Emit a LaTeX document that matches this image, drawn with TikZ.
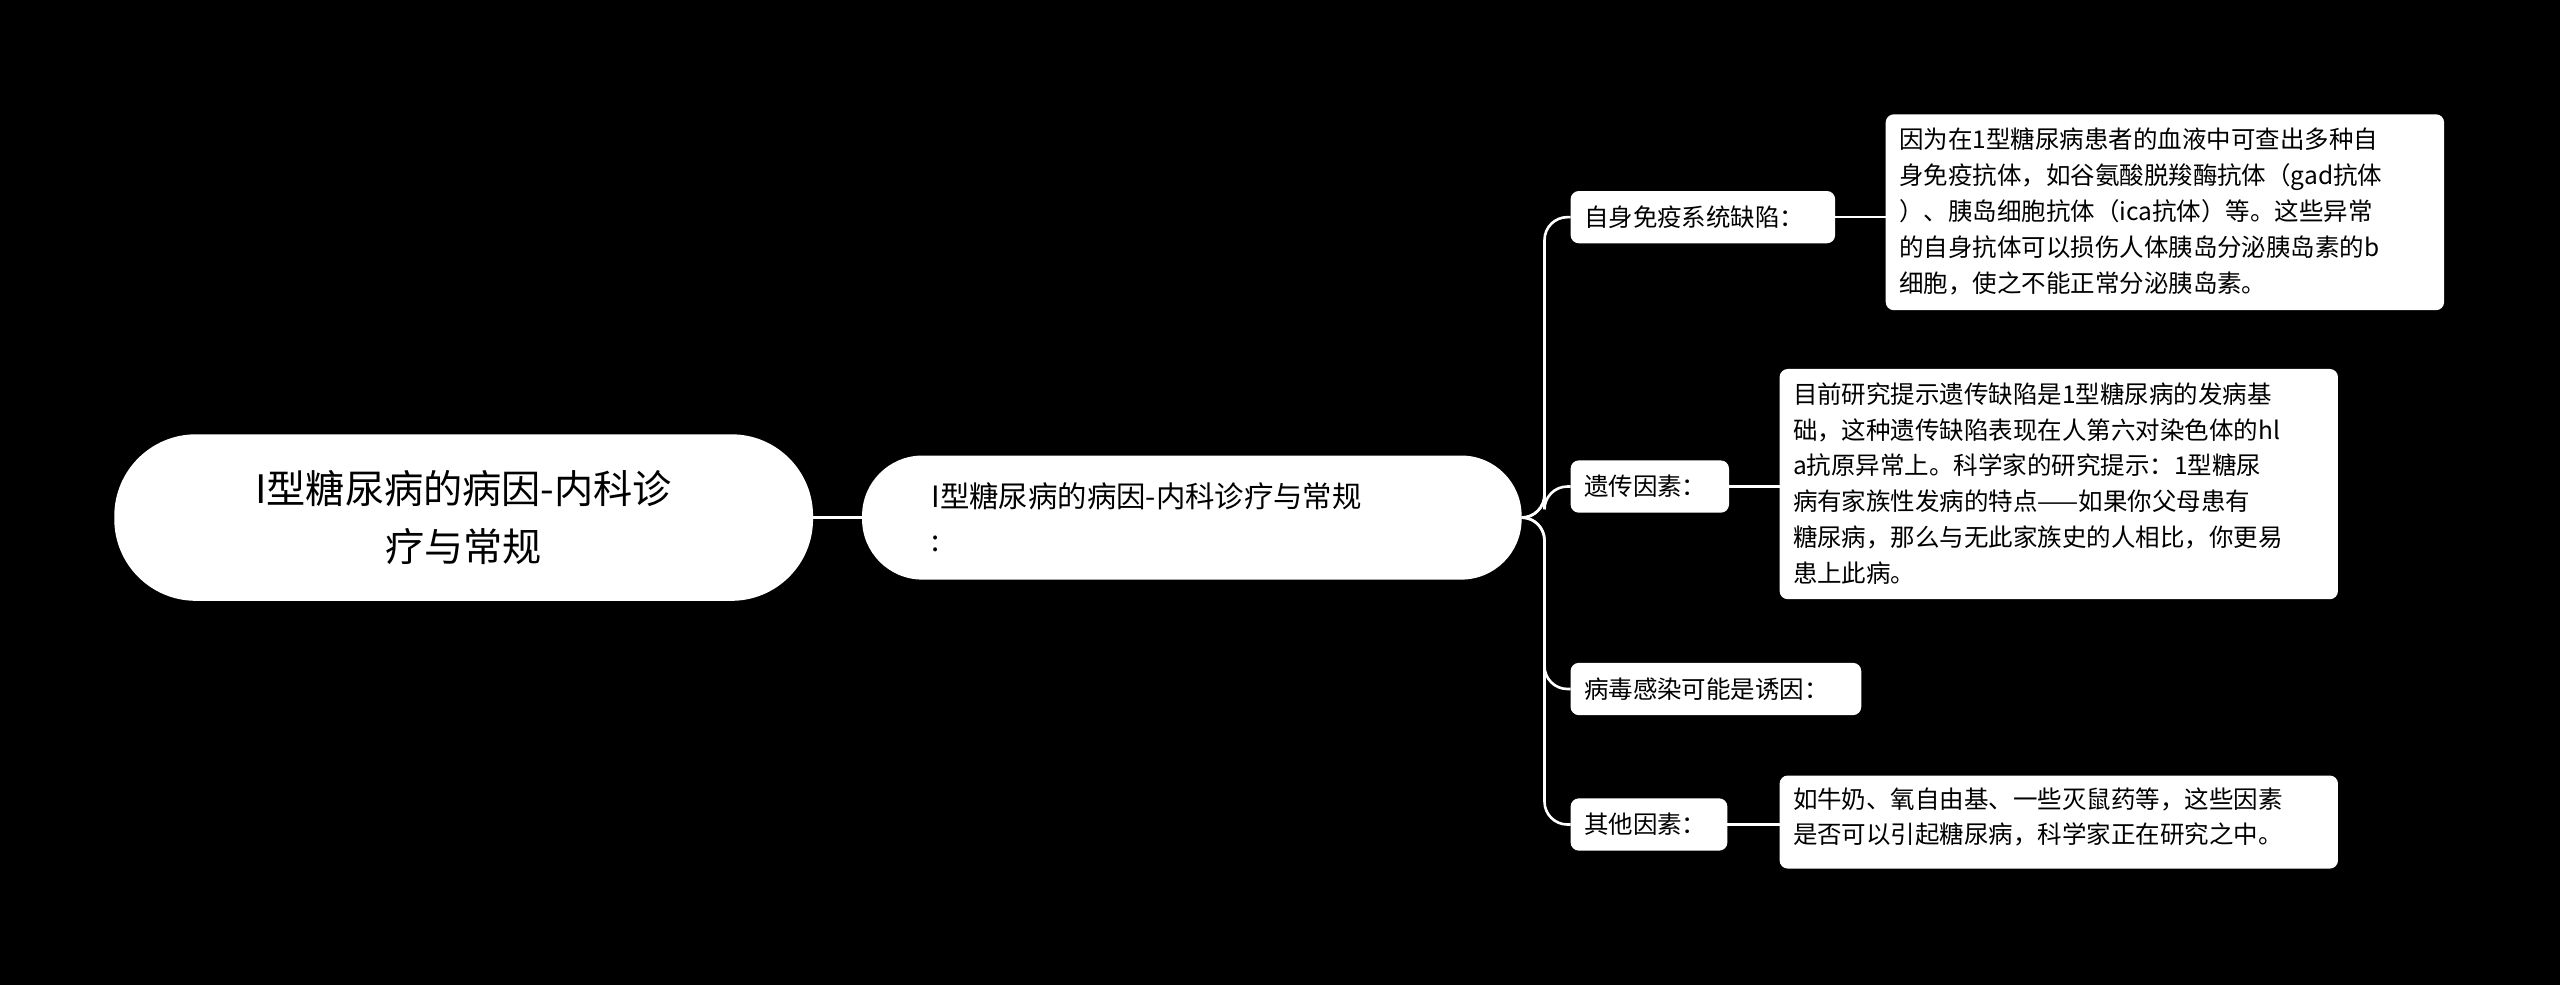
\documentclass[tikz,border=0pt]{standalone}
\usepackage{fontspec}
\setmainfont{Noto Sans CJK SC}
\begin{document}
\begin{tikzpicture}[x=1pt,y=-1pt,
 pill/.style={fill=white,rounded corners=38pt,text=black},
 leaf/.style={fill=white,rounded corners=5pt,text=black,font=\fontsize{15}{22}\selectfont,inner sep=0pt},
 conn/.style={draw=white,line width=1.6pt}]
\fill[black] (0,0) rectangle (1568,603);
\useasboundingbox (0,0) rectangle (1568,603);
\fill[white,rounded corners=50pt] (70,266) rectangle (498,368);
\node[align=center,font=\fontsize{24}{36}\selectfont] (r) at (284,317) {I型糖尿病的病因-内科诊\\疗与常规};
\coordinate (re) at (498,317);
\fill[white,rounded corners=37pt] (528,279) rectangle (932,355);
\node[align=left,anchor=west,font=\fontsize{18}{27}\selectfont] (s) at (567,317) {I型糖尿病的病因-内科诊疗与常规\\:};
\coordinate (sw) at (528,317);
\coordinate (se) at (932,317);
\draw[conn] (re) -- (sw);
% leaves
\fill[white,rounded corners=5pt] (962,117) rectangle (1124,149);
\node[leaf,anchor=west] (a) at (970,133) {自身免疫系统缺陷：};
\fill[white,rounded corners=5pt] (962,282) rectangle (1059,314);
\node[leaf,anchor=west] (b) at (970,298) {遗传因素：};
\fill[white,rounded corners=5pt] (962,406) rectangle (1140,438);
\node[leaf,anchor=west] (c) at (970,422) {病毒感染可能是诱因：};
\fill[white,rounded corners=5pt] (962,489) rectangle (1058,521);
\node[leaf,anchor=west] (d) at (970,505) {其他因素：};
\coordinate (aw) at (962,133); \coordinate (ae) at (1124,133);
\coordinate (bw) at (962,298); \coordinate (be) at (1059,298);
\coordinate (cw) at (962,422);
\coordinate (dw) at (962,505); \coordinate (de) at (1058,505);
\foreach \t in {aw,bw,cw,dw}{\draw[conn,rounded corners=14pt] (se) -- (946,317) |- (\t);}
% details
\fill[white,rounded corners=5pt] (1155,70) rectangle (1497,190);
\node[leaf,anchor=north west,align=left] (da) at (1163,78) {因为在1型糖尿病患者的血液中可查出多种自\\身免疫抗体，如谷氨酸脱羧酶抗体（gad抗体\\）、胰岛细胞抗体（ica抗体）等。这些异常\\的自身抗体可以损伤人体胰岛分泌胰岛素的b\\细胞，使之不能正常分泌胰岛素。};
\fill[white,rounded corners=5pt] (1090,226) rectangle (1432,367);
\node[leaf,anchor=north west,align=left] (db) at (1098,234) {目前研究提示遗传缺陷是1型糖尿病的发病基\\础，这种遗传缺陷表现在人第六对染色体的hl\\a抗原异常上。科学家的研究提示：1型糖尿\\病有家族性发病的特点——如果你父母患有\\糖尿病，那么与无此家族史的人相比，你更易\\患上此病。};
\fill[white,rounded corners=5pt] (1090,475) rectangle (1432,532);
\node[leaf,anchor=north west,align=left] (dd) at (1098,482) {如牛奶、氧自由基、一些灭鼠药等，这些因素\\是否可以引起糖尿病，科学家正在研究之中。};
\draw[conn] (ae) -- (1155,133);
\draw[conn] (be) -- (1090,298);
\draw[conn] (de) -- (1090,505);
\end{tikzpicture}
\end{document}
